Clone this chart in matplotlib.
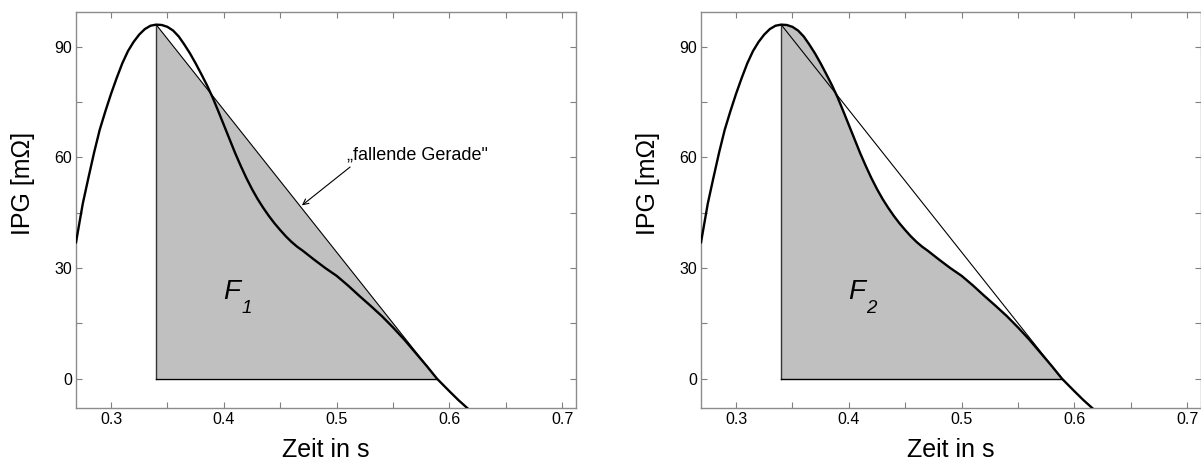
import numpy as np
import matplotlib.pyplot as plt

plt.rcParams['font.family'] = ['Liberation Sans', 'DejaVu Sans']

# IPG curve (time in s, IPG in mOhm)
zeit = [0.269, 0.275, 0.280, 0.285, 0.290, 0.295, 0.300, 0.305, 0.310, 0.315,
        0.320, 0.325, 0.330, 0.335, 0.340, 0.345, 0.350, 0.355, 0.360, 0.365,
        0.370, 0.375, 0.380, 0.385, 0.390, 0.395, 0.400, 0.405, 0.410, 0.415,
        0.420, 0.425, 0.430, 0.435, 0.440, 0.445, 0.450, 0.455, 0.460, 0.465,
        0.470, 0.480, 0.490, 0.500, 0.510, 0.520, 0.530, 0.540, 0.550, 0.560,
        0.570, 0.580, 0.589, 0.600, 0.608, 0.616]
ipg = [37, 47.5, 54.5, 61.3, 67.5, 72.5, 77.2, 81.5, 85.5, 88.8,
       91.3, 93.3, 94.8, 95.7, 96.0, 95.9, 95.4, 94.4, 92.8, 90.6,
       88.2, 85.5, 82.6, 79.6, 76.3, 72.6, 68.8, 65.0, 61.2, 57.7,
       54.4, 51.4, 48.7, 46.3, 44.1, 42.1, 40.3, 38.6, 37.1, 35.8,
       34.7, 32.3, 30.0, 27.9, 25.3, 22.5, 19.8, 17.0, 13.9, 10.6,
       7.0, 3.4, 0.0, -3.4, -5.8, -8.0]

t_peak, ipg_peak = 0.340, 96.0
t_zero = 0.589

gerade_t = [t_peak, t_zero]
gerade_y = [ipg_peak, 0]

x_ticks = [0.3, 0.4, 0.5, 0.6, 0.7]
x_labels = ['0.3', '0.4', '0.5', '0.6', '0.7']
y_ticks = [0, 30, 60, 90]

fig = plt.figure(figsize=(12.01, 4.61), dpi=100)
ax1 = fig.add_axes([0.0633, 0.1143, 0.4161, 0.8603])
ax2 = fig.add_axes([0.5837, 0.1143, 0.4161, 0.8603])

zeit = np.array(zeit)
ipg = np.array(ipg)

for ax in (ax1, ax2):
    if ax is ax1:
        ax.fill(gerade_t + [t_peak], gerade_y + [0], color='#c0c0c0', lw=0, zorder=1)
    else:
        m = (zeit >= t_peak) & (zeit <= t_zero)
        ax.fill_between(zeit[m], ipg[m], 0, color='#c0c0c0', lw=0, zorder=1)
    ax.plot(gerade_t, gerade_y, color='black', lw=0.8, zorder=2)
    ax.plot([t_peak, t_peak], [0, ipg_peak], color='#333333', lw=1.0, zorder=2)
    ax.plot([t_peak, t_zero], [0, 0], color='black', lw=1.0, zorder=2)
    ax.plot(zeit, ipg, color='black', lw=1.7, zorder=3)

    ax.set_xlim(0.2690, 0.7119)
    ax.set_ylim(-8.0, 99.5)
    ax.set_xticks(x_ticks)
    ax.set_xticklabels(x_labels)
    ax.set_xticks([0.35, 0.45, 0.55, 0.65], minor=True)
    ax.set_yticks(y_ticks)
    ax.set_yticks([15, 45, 75], minor=True)
    ax.tick_params(which='both', direction='in', top=True, right=True,
                   length=4.2, width=0.8, color='#808080', labelsize=11.5)
    ax.tick_params(axis='x', pad=2.5)
    ax.tick_params(axis='y', pad=3)
    for s in ax.spines.values():
        s.set_color('#8c8c8c')
        s.set_linewidth(1.0)
    ax.set_xlabel('Zeit in s', fontsize=18, va='center')
    ax.xaxis.set_label_coords(0.5, -0.105)
    ax.set_ylabel('IPG [mΩ]', fontsize=18, va='center')
    ax.yaxis.set_label_coords(-0.1055, 0.568)

ax1.text(0.509, 60.7, '„fallende Gerade"', fontsize=13, va='center', ha='left')
ax1.annotate('', xy=(0.4692, 47.0), xytext=(0.5119, 57.4),
             arrowprops=dict(arrowstyle='->', color='black', lw=0.8,
                             shrinkA=0, shrinkB=0))

for ax, sub in ((ax1, '1'), (ax2, '2')):
    ax.text(0.407, 23.4, 'F', fontsize=20, fontstyle='italic', ha='center', va='center')
    ax.text(0.4203, 19.0, sub, fontsize=13.5, fontstyle='italic', ha='center', va='center')

fig.savefig('out.png', dpi=100)
